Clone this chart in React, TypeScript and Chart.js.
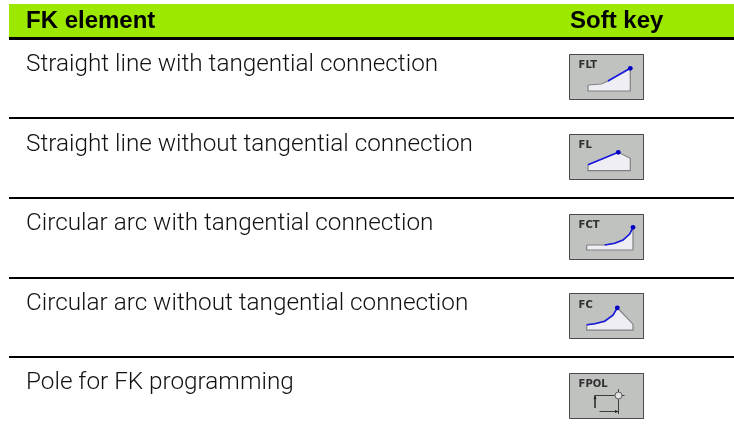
import React, { useEffect, useRef } from "react";
import { Chart, registerables } from "chart.js";

Chart.register(...registerables);

type P = [number, number];

const headerLabels = ["FK element", "Soft key"];
const rowLabels = [
  "Straight line with tangential connection",
  "Straight line without tangential connection",
  "Circular arc with tangential connection",
  "Circular arc without tangential connection",
  "Pole for FK programming",
];
const keyLabels = ["FLT", "FL", "FCT", "FC", "FPOL"];
const keyTops = [54, 134, 214, 293.5, 373];
const keyLeft = 569;
const keyWidth = 75;
const keyHeight = 46;
const rowBaselines = [71, 151, 230, 310, 389];
const separators = [118, 198, 278, 357];

const keyShapes: P[][] = [
  [[19, 31], [19, 37], [61.3, 37], [61.3, 14.3], [39, 27], [32.3, 30], [19, 31]],
  [[19, 30.7], [19, 36.7], [61.3, 36.7], [61.3, 24.3], [49.3, 18.3], [19, 30.7]],
  [[17.7, 31], [17.7, 36], [64, 36], [64, 13.3], [60.7, 20], [54, 26], [45.7, 29.3], [35.7, 31], [17.7, 31]],
  [[17.7, 31.3], [17.7, 36.7], [64, 36.7], [64, 30.7], [48.3, 14.3], [44, 21.7], [35.7, 27.7], [25.7, 30.3], [17.7, 31.3]],
];
const keyBlue: P[][] = [
  [[39, 27], [61.3, 14.3]],
  [[19, 30.7], [49.3, 18.3]],
  [[35.7, 31], [45.7, 29.3], [54, 26], [60.7, 20], [64, 13.3]],
  [[17.7, 31.3], [25.7, 30.3], [35.7, 27.7], [44, 21.7], [48.3, 14.3]],
];
const keyDots: P[] = [[61.3, 14.3], [49.3, 18.3], [64, 13.3], [48.3, 14.3]];
const poleLines: P[][] = [
  [[26, 22.5], [55.5, 22.5]],
  [[49.5, 16.5], [49.5, 41]],
  [[26, 22.5], [26, 35]],
  [[30.5, 38.5], [49.5, 38.5]],
];
const poleArrowHeads: P[][] = [
  [[24.5, 26], [27.5, 26], [26, 22.5], [24.5, 26]],
  [[46, 37], [46, 40], [49.5, 38.5], [46, 37]],
];
const poleCentre: P = [49.5, 22.5];

const fontFamily = "'Liberation Sans', Arial, sans-serif";

export default function App() {
  const ref = useRef<HTMLCanvasElement>(null);

  useEffect(() => {
    const pts = (list: P[], top = 0, left = 0) => list.map(([x, y]) => ({ x: x + left, y: y + top }));
    const datasets: any[] = [];
    const add = (d: any) => {
      datasets.push({
        type: "scatter",
        showLine: true,
        pointRadius: 0,
        tension: 0,
        borderWidth: 1,
        order: -datasets.length,
        ...d,
      });
    };
    const rect = (x0: number, y0: number, x1: number, y1: number): P[] => [
      [x0, y0], [x1, y0], [x1, y1], [x0, y1], [x0, y0],
    ];

    add({ data: pts(rect(9, 4, 734, 37)), fill: "shape", backgroundColor: "#9ce800", borderWidth: 0 });
    add({ data: pts(rect(9, 37, 734, 40)), fill: "shape", backgroundColor: "#000000", borderWidth: 0 });
    separators.forEach((y) =>
      add({ data: pts([[9, y], [734, y]]), borderColor: "#000000", borderWidth: 2 })
    );

    keyTops.forEach((top, i) => {
      const t = Math.floor(top) + 0.5;
      const l = keyLeft + 0.5;
      add({
        data: pts(rect(0, 0, keyWidth - 1, keyHeight - 1), t, l),
        fill: "shape",
        backgroundColor: "#c0c2c0",
        borderColor: "#4a4a4a",
        borderWidth: 1,
      });
      if (i < keyShapes.length) {
        add({
          data: pts(keyShapes[i], top, keyLeft),
          fill: "shape",
          backgroundColor: "#eeeef4",
          borderColor: "#808080",
          borderWidth: 1.2,
        });
        add({ data: pts(keyBlue[i], top, keyLeft), borderColor: "#1a1ae0", borderWidth: 1.6 });
        add({
          data: pts([keyDots[i]], top, keyLeft),
          showLine: false,
          pointRadius: 2.4,
          pointBackgroundColor: "#0000c8",
          pointBorderWidth: 0,
        });
      } else {
        poleLines.forEach((l2) =>
          add({ data: pts(l2, top, keyLeft), borderColor: "#3c3c3c", borderWidth: 1 })
        );
        poleArrowHeads.forEach((h) =>
          add({ data: pts(h, top, keyLeft), fill: "shape", backgroundColor: "#222222", borderWidth: 0 })
        );
        add({
          data: pts([poleCentre], top, keyLeft),
          showLine: false,
          pointRadius: 3.5,
          pointBackgroundColor: "#e4e4e4",
          pointBorderColor: "#5a5a5a",
          pointBorderWidth: 1,
        });
      }
    });

    const textPlugin = {
      id: "tableText",
      afterDatasetsDraw(chart: any) {
        const { ctx, scales } = chart;
        const X = (v: number) => scales.x.getPixelForValue(v);
        const Y = (v: number) => scales.y.getPixelForValue(v);
        ctx.save();
        ctx.textBaseline = "alphabetic";
        ctx.textAlign = "left";
        ctx.fillStyle = "#000000";
        ctx.font = `bold 24px ${fontFamily}`;
        ctx.fillText(headerLabels[0], X(26), Y(28));
        ctx.fillText(headerLabels[1], X(570), Y(28));
        ctx.fillStyle = "#111111";
        ctx.font = `300 24.3px Roboto, ${fontFamily}`;
        rowLabels.forEach((t, i) => ctx.fillText(t, X(26), Y(rowBaselines[i])));
        ctx.fillStyle = "#303030";
        ctx.font = `bold 10px 'DejaVu Sans', sans-serif`;
        keyLabels.forEach((t, i) => ctx.fillText(t, X(keyLeft + 9.6), Y(keyTops[i] + 14)));
        ctx.restore();
      },
    };

    const chart = new Chart(ref.current!, {
      type: "scatter",
      data: { datasets },
      options: {
        responsive: false,
        animation: false,
        layout: { padding: 0, autoPadding: false },
        scales: {
          x: { type: "linear", display: false, min: 0, max: 734 },
          y: { type: "linear", display: false, min: 0, max: 434, reverse: true },
        },
        plugins: { legend: { display: false }, tooltip: { enabled: false } },
      },
      plugins: [textPlugin],
    } as any);
    return () => chart.destroy();
  }, []);

  return (
    <div style={{ position: "fixed", left: 0, top: 0, width: 734, height: 434, background: "#fff" }}>
      <canvas ref={ref} width={734} height={434} style={{ display: "block" }} />
    </div>
  );
}
